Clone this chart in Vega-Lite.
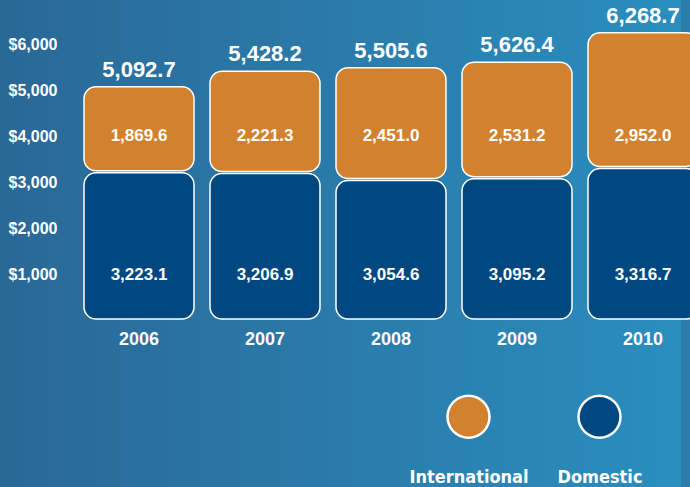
{
  "$schema": "https://vega.github.io/schema/vega-lite/v6.json",
  "autosize": {"type": "fit", "contains": "padding"},
  "width": 690,
  "height": 487,
  "padding": 0,
  "background": "#2a7cab",
  "config": {
    "view": {"stroke": null, "fill": {"gradient": "linear", "x1": 0, "y1": 0, "x2": 1, "y2": 0, "stops": [{"offset": 0, "color": "#2a6896"}, {"offset": 1, "color": "#2a8ebe"}]}},
    "font": "Liberation Sans",
    "axis": {"domain": false, "ticks": false, "tickSize": 0, "grid": false, "title": null, "labelColor": "white", "labelFontWeight": "bold", "labelFont": "Liberation Sans"}
  },
  "data": {
    "values": [
      {"year": "2006", "type": "Domestic", "value": 3223.1},
      {"year": "2006", "type": "International", "value": 1869.6},
      {"year": "2007", "type": "Domestic", "value": 3206.9},
      {"year": "2007", "type": "International", "value": 2221.3},
      {"year": "2008", "type": "Domestic", "value": 3054.6},
      {"year": "2008", "type": "International", "value": 2451.0},
      {"year": "2009", "type": "Domestic", "value": 3095.2},
      {"year": "2009", "type": "International", "value": 2531.2},
      {"year": "2010", "type": "Domestic", "value": 3316.7},
      {"year": "2010", "type": "International", "value": 2952.0}
    ]
  },
  "encoding": {
    "x": {
      "field": "year", "type": "ordinal",
      "scale": {"range": [76, 706], "paddingInner": 0.127, "paddingOuter": 0.0635},
      "axis": {"orient": "bottom", "offset": -167, "labelPadding": 10, "labelFontSize": 18, "labelAngle": 0}
    }
  },
  "layer": [
    {
      "transform": [{"stack": "value", "groupby": ["year"], "sort": [{"field": "type", "order": "ascending"}], "as": ["v0", "v1"]}],
      "mark": {"type": "bar", "cornerRadius": 12, "stroke": "white", "strokeWidth": 1.5, "fillOpacity": 1, "yOffset": 1, "y2Offset": -1},
      "encoding": {
        "y": {
          "field": "v1", "type": "quantitative",
          "scale": {"domain": [-3630, 6957], "nice": false, "zero": false},
          "axis": {"orient": "left", "offset": -60, "labelPadding": 3, "values": [1000, 2000, 3000, 4000, 5000, 6000], "format": "$,d", "labelFontSize": 16}
        },
        "y2": {"field": "v0"},
        "fill": {
          "field": "type", "type": "nominal",
          "scale": {"domain": ["International", "Domestic"], "range": ["#d2822e", "#00487f"]},
          "legend": {
            "orient": "none", "legendX": 446, "legendY": 394, "direction": "horizontal",
            "title": null, "padding": 0, "columnPadding": 28,
            "symbolType": "circle", "symbolSize": 1764, "symbolStrokeColor": "white", "symbolStrokeWidth": 2.5, "symbolOpacity": 1,
            "labelFont": "DejaVu Sans Condensed", "labelFontWeight": "bold", "labelFontSize": 18, "labelColor": "white",
            "labelAlign": "center", "labelBaseline": "alphabetic", "labelOffset": -22,
            "encoding": {"labels": {"dy": {"value": 66}}}
          }
        }
      }
    },
    {
      "transform": [{"filter": "datum.type == 'International'"}],
      "mark": {"type": "text", "color": "white", "fontWeight": "bold", "fontSize": 17, "baseline": "middle"},
      "encoding": {
        "y": {"datum": 4000, "type": "quantitative"},
        "text": {"field": "value", "type": "quantitative", "format": ",.1f"}
      }
    },
    {
      "transform": [{"filter": "datum.type == 'Domestic'"}],
      "mark": {"type": "text", "color": "white", "fontWeight": "bold", "fontSize": 17, "baseline": "middle", "dy": 1},
      "encoding": {
        "y": {"datum": 1000, "type": "quantitative"},
        "text": {"field": "value", "type": "quantitative", "format": ",.1f"}
      }
    },
    {
      "transform": [{"aggregate": [{"op": "sum", "field": "value", "as": "total"}], "groupby": ["year"]}],
      "mark": {"type": "text", "color": "white", "fontWeight": "bold", "fontSize": 22, "baseline": "alphabetic", "dy": -9},
      "encoding": {
        "y": {"field": "total", "type": "quantitative"},
        "text": {"field": "total", "type": "quantitative", "format": ",.1f"}
      }
    }
  ]
}
